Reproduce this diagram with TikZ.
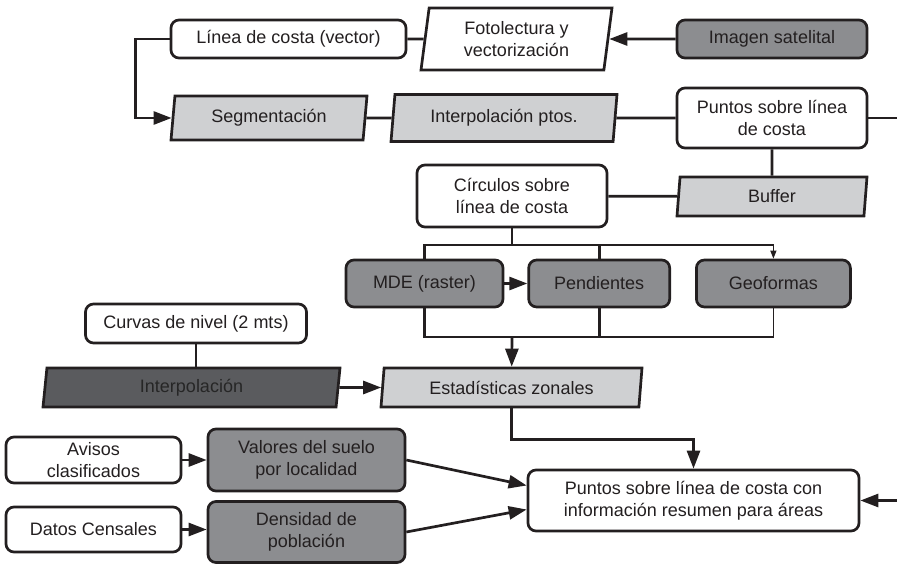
\documentclass[tikz,border=0pt]{standalone}
\usepackage{fontspec}
\setmainfont{Liberation Sans}
\usepackage{xcolor}
\usetikzlibrary{positioning,arrows.meta,shapes.geometric,calc}

\definecolor{lineclr}{HTML}{231F20}
\definecolor{lightfill}{HTML}{CFD0D2}
\definecolor{midfill}{HTML}{8C8D90}
\definecolor{darkfill}{HTML}{5A5B5E}

\begin{document}
\begin{tikzpicture}[x=1pt, y=-1pt,
    box/.style={draw=lineclr, line width=2.7pt, rounded corners=8pt, inner sep=0pt, align=center, text=lineclr, font=\fontsize{18}{22}\selectfont, fill=#1},
    box/.default=white,
    para/.style={draw=lineclr, line width=2.7pt, trapezium, trapezium left angle=77, trapezium right angle=103, trapezium stretches body, inner sep=0pt, align=center, text=lineclr, font=\fontsize{18}{22}\selectfont, fill=#1},
    para/.default=lightfill,
    conn/.style={draw=lineclr, line width=2.7pt},
    arr/.style={conn, -{Triangle[length=18pt,width=13pt]}},
    thinline/.style={draw=lineclr, line width=1.2pt},
    thinarr/.style={thinline, -{Triangle[length=8pt,width=6pt]}},
]
\useasboundingbox (0,0) rectangle (897,564);

% --- Coastline extraction ---
\node[box, minimum width=235pt, minimum height=38pt] (linea) at (288.5,39) {Línea de costa (vector)};
\node[para=white, minimum width=191pt, minimum height=62pt] (foto) at (516.5,39) {Fotolectura y\\vectorización};
\node[box=midfill, minimum width=190pt, minimum height=38pt] (imagen) at (772,39) {Imagen satelital};

% --- Points on coastline ---
\node[para, minimum width=196pt, minimum height=44pt] (segm) at (269,118) {Segmentación};
\node[para, minimum width=226pt, minimum height=47pt] (interpp) at (504,118) {Interpolación ptos.};
\node[box, minimum width=190pt, minimum height=60pt] (puntos) at (772,118) {Puntos sobre línea\\de costa};

% --- Circles and buffer ---
\node[box, minimum width=190pt, minimum height=62pt] (circ) at (512,196) {Círculos sobre\\línea de costa};
\node[para, minimum width=190pt, minimum height=39pt] (buffer) at (772,196.5) {Buffer};

% --- Terrain layers ---
\node[box=midfill, minimum width=157pt, minimum height=47pt] (mde) at (424.5,283.5) {MDE (raster)};
\node[box=midfill, minimum width=141pt, minimum height=47pt, right=23pt of mde] (pend) {Pendientes};
\node[box=midfill, minimum width=154pt, minimum height=47pt, right=24pt of pend] (geo) {Geoformas};

% --- Contours and zonal statistics ---
\node[box, minimum width=221pt, minimum height=39pt] (curvas) at (196,323.5) {Curvas de nivel (2 mts)};
\node[para=darkfill, text=black!85, minimum width=297pt, minimum height=39pt] (interp) at (191.5,387.5) {Interpolación};
\node[para, minimum width=261pt, minimum height=39pt] (estad) at (511.5,387.5) {Estadísticas zonales};

% --- Socio-economic data ---
\node[box, minimum width=175pt, minimum height=46pt] (avisos) at (93.5,460) {Avisos\\clasificados};
\node[box=midfill, minimum width=197pt, minimum height=62pt] (valores) at (306.5,460) {Valores del suelo\\por localidad};
\node[box, minimum width=175pt, minimum height=45pt] (datos) at (93.5,529.5) {Datos Censales};
\node[box=midfill, minimum width=197pt, minimum height=61pt] (densidad) at (306.5,532) {Densidad de\\población};

% --- Result ---
\node[box, minimum width=331pt, minimum height=61pt] (final) at (693.5,500.5) {Puntos sobre línea de costa con\\información resumen para áreas};

% --- Junctions ---
\coordinate (jtop) at (512,245);
\coordinate (jbot) at (512,337);

% --- Arrows ---
\draw[conn] (linea) -- (foto);
\draw[arr] (imagen) -- (foto);
\draw[arr] (linea.west) -- ++(-34,0) |- (segm);
\draw[conn] (segm) -- (interpp);
\draw[conn] (interpp) -- (puntos);
\draw[conn] (puntos) -- (buffer);
\draw[conn] (circ) -- (buffer);

\draw[conn] (circ) -- (jtop);
\draw[conn] (mde.north) |- (jtop -| pend.north) -- (pend.north);
\draw[thinarr] (jtop -| pend.north) -| (geo.north);
\draw[arr] (mde) -- (pend);
\draw[conn] (mde.south) |- (jbot -| pend.south) -- (pend.south);
\draw[thinline] (jbot -| pend.south) -| (geo.south);
\draw[arr] (jbot) -- (estad);

\draw[conn] (curvas.south) -- (curvas.south |- interp.north);
\draw[arr] (interp) -- (estad);
\draw[arr] (estad.south) -- ++(0,31) -| (final.north);

\draw[arr] (avisos) -- (valores);
\draw[arr] (datos) -- (datos -| densidad.west);
\draw[arr] (valores.east) -- ([yshift=15pt]final.west);
\draw[arr] (densidad.east) -- ([yshift=-9pt]final.west);

% Loop leaving the page on the right
\begin{scope}
\clip (0,0) rectangle (897,564);
\draw[arr] (puntos.east) -- ++(60,0) |- (final.east);
\end{scope}

\end{tikzpicture}
\end{document}
